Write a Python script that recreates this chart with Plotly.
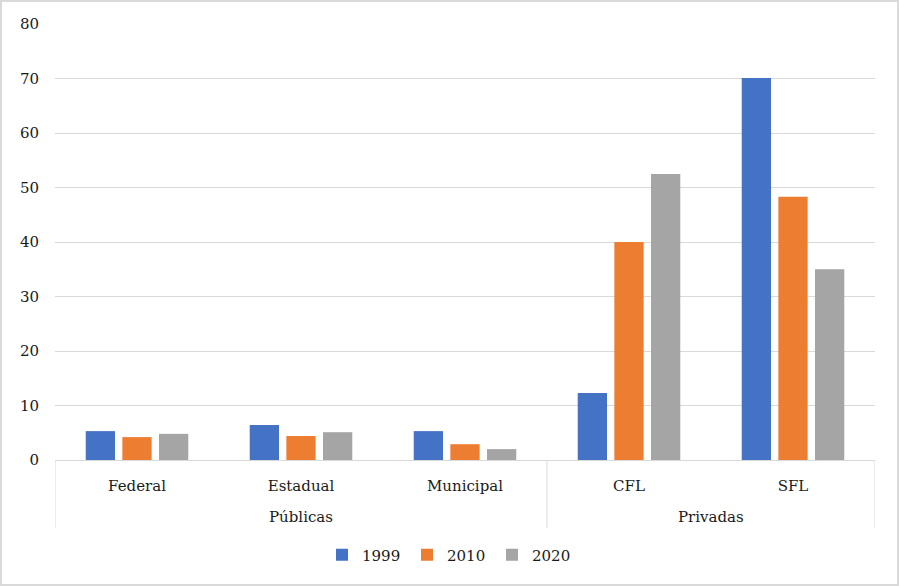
import plotly.graph_objects as go

groups = ["Públicas", "Privadas"]
group_members = [["Federal", "Estadual", "Municipal"], ["CFL", "SFL"]]
categories = ["Federal", "Estadual", "Municipal", "CFL", "SFL"]
years = ["1999", "2010", "2020"]
v1999 = [5.3, 6.4, 5.3, 12.3, 70.1]
v2010 = [4.2, 4.4, 2.9, 40.0, 48.3]
v2020 = [4.8, 5.1, 2.0, 52.5, 35.0]
colors = ["#4472C4", "#ED7D31", "#A5A5A5"]

W, H = 899, 586
L, R, T, B = 55, 24, 24, 126
PW, PH = W - L - R, H - T - B

fig = go.Figure()
for name, vals, col in zip(years, [v1999, v2010, v2020], colors):
    fig.add_trace(go.Bar(x=categories, y=vals, name=name,
                         marker=dict(color=col, line=dict(width=0))))

font = "DejaVu Serif"
txt = "#1a1a1a"
grid = "#d9d9d9"

annotations = []
shapes = []
start = 0
bounds = [-0.5]
for g, members in zip(groups, group_members):
    mid = start + (len(members) - 1) / 2
    annotations.append(dict(text=g, x=mid, xref="x", y=-(517 - 460) / PH, yref="paper",
                            showarrow=False, xanchor="center", yanchor="middle",
                            font=dict(family=font, size=15, color=txt)))
    start += len(members)
    bounds.append(start - 0.5)
for b in bounds:
    shapes.append(dict(type="line", xref="x", yref="paper", x0=b, x1=b, y0=0,
                       y1=-(528 - 460) / PH, line=dict(color=grid, width=1)))
shapes.append(dict(type="rect", xref="paper", yref="paper", x0=-L / PW + 1 / PW,
                   x1=1 + (R - 1) / PW, y0=-(B - 1) / PH, y1=1 + (T - 1) / PH,
                   line=dict(color=grid, width=2)))

fig.update_layout(
    width=W, height=H,
    paper_bgcolor="white", plot_bgcolor="white",
    margin=dict(l=L, r=R, t=T, b=B, autoexpand=False),
    barmode="group", bargap=0.33, bargroupgap=0.2,
    font=dict(family=font, size=15, color=txt),
    showlegend=True,
    legend=dict(orientation="h", x=0.5, xref="container", xanchor="center",
                y=1 - 555 / H, yref="container", yanchor="middle",
                font=dict(family=font, size=15, color=txt),
                itemwidth=30, traceorder="normal", entrywidth=40),
    xaxis=dict(type="category", range=[-0.5, 4.5], showline=True, linecolor=grid,
               linewidth=1, tickfont=dict(family=font, size=15, color=txt),
               showgrid=False, ticks="", ticklabelstandoff=12),
    yaxis=dict(range=[0, 80], dtick=10, showgrid=True, gridcolor=grid, gridwidth=1,
               zeroline=False, showline=False, ticks="",
               tickfont=dict(family=font, size=15, color=txt),
               ticklabelstandoff=15),
    annotations=annotations,
    shapes=shapes,
)
fig.write_html("out.html", config={"displayModeBar": False},
               post_script="document.body.style.margin='0';")
